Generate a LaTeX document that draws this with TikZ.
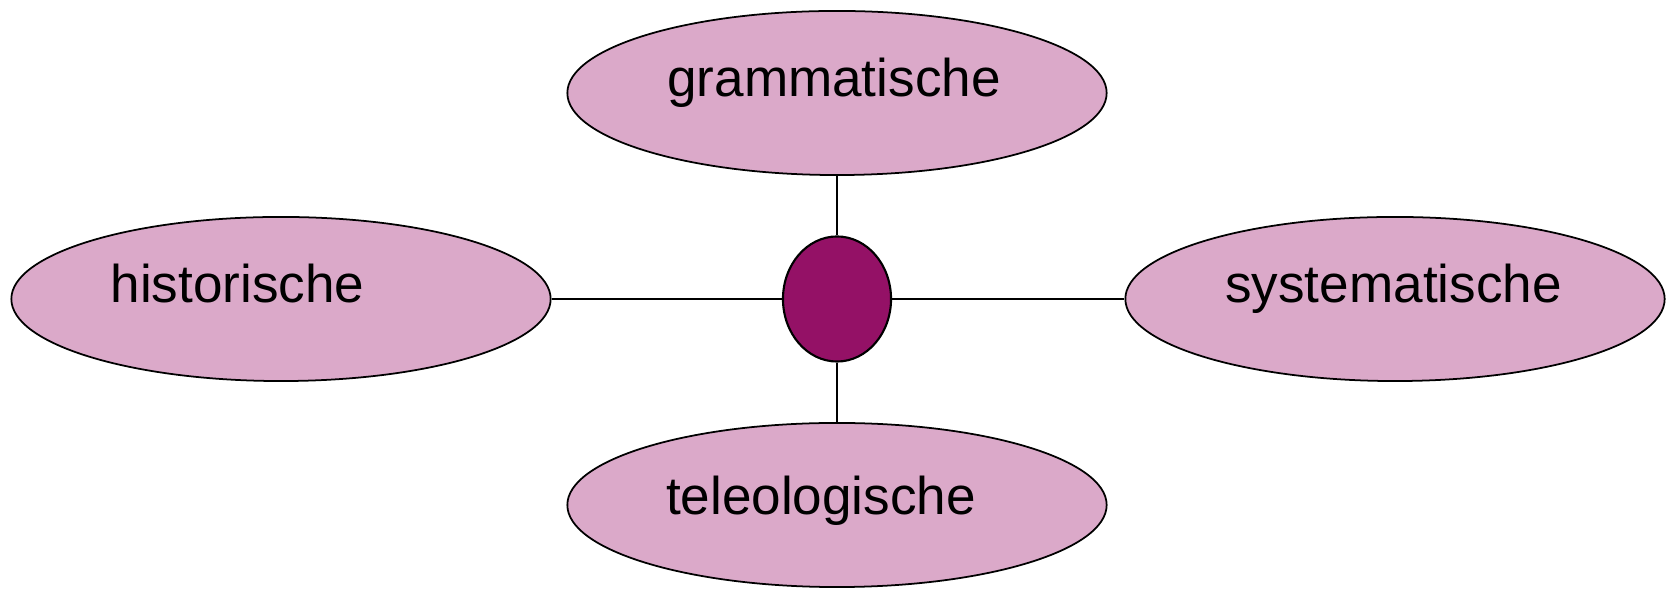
\documentclass[tikz,border=0pt]{standalone}
\usepackage{fontspec}
\setmainfont{Liberation Sans}
\usetikzlibrary{shapes.geometric}
\definecolor{lilac}{RGB}{219,169,201}
\definecolor{plum}{RGB}{148,17,102}
\begin{document}
\begin{tikzpicture}[x=0.01cm, y=-0.01cm,
    pole/.style={ellipse, draw, fill=lilac, line width=0.5pt, inner sep=0pt,
                 minimum width=5.39cm, minimum height=1.64cm},
    hub/.style={ellipse, draw, fill=plum, line width=0.6pt, inner sep=0pt,
                minimum width=1.08cm, minimum height=1.25cm},
    word/.style={anchor=base, inner sep=0pt, font=\fontsize{15.1}{18}\selectfont}]
    \useasboundingbox (0, 0) rectangle (1670, 589);
    \draw (837, 93) node (gr) [pole] {}
          (281, 299) node (hi) [pole] {}
          (1395, 299) node (sy) [pole] {}
          (837, 505) node (te) [pole] {}
          (837, 299) node (mid) [hub] {};
    \draw[line width=0.45pt] (mid) -- (gr)
                             (mid) -- (hi)
                             (mid) -- (sy)
                             (mid) -- (te);
    \node (grt) [word, xshift=-0.03cm, yshift=-0.04cm] at (gr.center) {grammatische};
    \node (hit) [word, xshift=-0.435cm, yshift=-0.04cm] at (hi.center) {historische};
    \node (syt) [word, xshift=-0.015cm, yshift=-0.04cm] at (sy.center) {systematische};
    \node (tet) [word, xshift=-0.16cm, yshift=-0.09cm] at (te.center) {teleologische};
  \end{tikzpicture}
\end{document}
